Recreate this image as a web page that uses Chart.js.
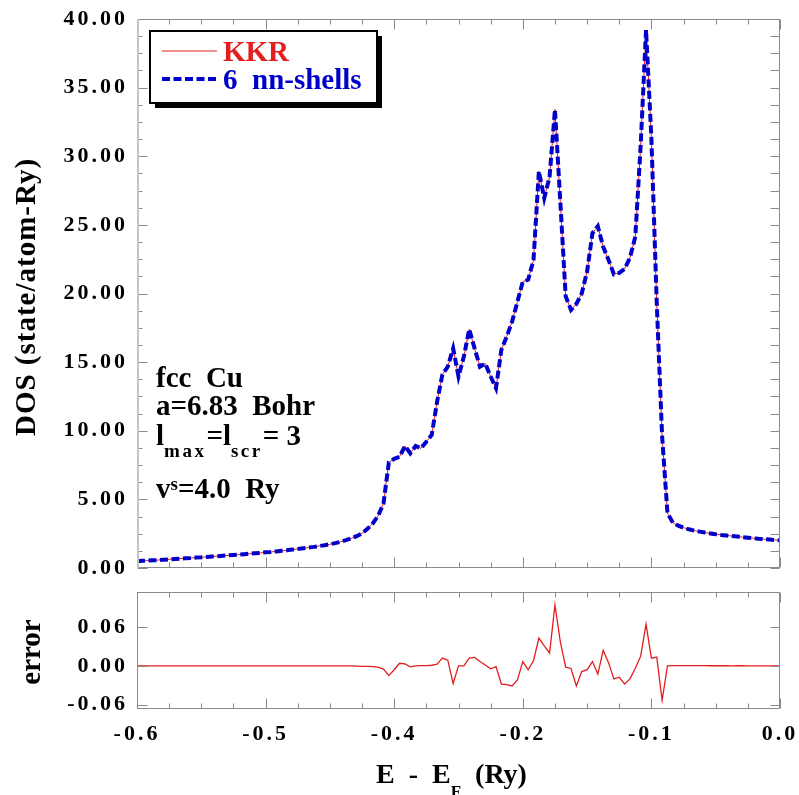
<!DOCTYPE html>
<html>
<head>
<meta charset="utf-8">
<script src="https://cdn.jsdelivr.net/npm/chart.js@4.4.0/dist/chart.umd.min.js"></script>
<style>
  html, body { margin: 0; padding: 0; background: #fff; }
  #wrap { position: relative; width: 799px; height: 795px; overflow: hidden; }
  canvas { position: absolute; left: 0; }
  #dos { top: 0; }
  #err { top: 580px; }
</style>
</head>
<body>
<div id="wrap">
  <canvas id="dos" width="799" height="580"></canvas>
  <canvas id="err" width="799" height="215"></canvas>
</div>
<script>
// energy grid (Ry, relative to E_F)
const energy = [
  -0.600,-0.595,-0.590,-0.585,-0.580,-0.575,-0.570,-0.565,-0.560,-0.555,
  -0.550,-0.545,-0.540,-0.535,-0.530,-0.525,-0.520,-0.515,-0.510,-0.505,
  -0.500,-0.495,-0.490,-0.485,-0.480,-0.475,-0.470,-0.465,-0.460,-0.455,
  -0.450,-0.445,-0.440,-0.435,-0.430,-0.425,-0.420,-0.415,-0.410,-0.405,
  -0.400,-0.395,-0.390,-0.385,-0.380,-0.375,-0.370,-0.365,-0.360,-0.355,
  -0.350,-0.345,-0.340,-0.335,-0.330,-0.325,-0.320,-0.315,-0.310,-0.305,
  -0.300,-0.295,-0.290,-0.285,-0.280,-0.275,-0.270,-0.265,-0.260,-0.255,
  -0.250,-0.245,-0.240,-0.235,-0.230,-0.225,-0.220,-0.215,-0.210,-0.205,
  -0.200,-0.195,-0.190,-0.185,-0.180,-0.175,-0.170,-0.165,-0.160,-0.155,
  -0.150,-0.145,-0.140,-0.135,-0.130,-0.125,-0.120,-0.115,-0.110,-0.105,
  -0.100,-0.095,-0.090,-0.085,-0.080,-0.075,-0.070,-0.065,-0.060,-0.055,
  -0.050,-0.045,-0.040,-0.035,-0.030,-0.025,-0.020,-0.015,-0.010,-0.005,
  0.000
];

// DOS, full KKR
const dosKKR = [
  0.50,0.52,0.54,0.56,0.58,0.61,0.63,0.66,0.68,0.71,
  0.73,0.76,0.78,0.81,0.84,0.86,0.89,0.92,0.95,0.98,
  1.01,1.04,1.07,1.10,1.14,1.17,1.21,1.25,1.29,1.34,
  1.39,1.44,1.49,1.54,1.60,1.66,1.73,1.81,1.91,2.03,
  2.16,2.32,2.52,2.85,3.25,3.80,4.70,7.70,7.95,8.10,
  8.89,8.36,8.89,8.72,9.20,9.69,12.10,14.10,14.67,16.00,
  13.95,15.40,17.40,16.00,14.67,14.90,13.95,13.10,15.90,16.86,
  17.95,19.40,20.87,21.00,22.45,28.90,26.95,28.50,33.40,26.70,
  19.80,18.80,19.24,20.00,21.60,24.40,24.90,23.40,22.45,21.40,
  21.50,21.80,22.60,24.15,30.80,39.20,31.30,19.30,9.60,4.00,
  3.30,3.08,2.94,2.82,2.72,2.65,2.58,2.52,2.46,2.41,
  2.37,2.33,2.29,2.25,2.21,2.17,2.13,2.10,2.07,2.04,
  2.02
];

// DOS, 6 nn-shells cluster (same as KKR at this scale)
const dosShells = [
  0.50,0.52,0.54,0.56,0.58,0.61,0.63,0.66,0.68,0.71,
  0.73,0.76,0.78,0.81,0.84,0.86,0.89,0.92,0.95,0.98,
  1.01,1.04,1.07,1.10,1.14,1.17,1.21,1.25,1.29,1.34,
  1.39,1.44,1.49,1.54,1.60,1.66,1.73,1.81,1.91,2.03,
  2.16,2.32,2.52,2.85,3.25,3.80,4.70,7.70,7.95,8.10,
  8.89,8.36,8.89,8.72,9.20,9.69,12.10,14.10,14.67,16.00,
  13.95,15.40,17.40,16.00,14.67,14.90,13.95,13.10,15.90,16.86,
  17.95,19.40,20.87,21.00,22.45,28.90,26.95,28.50,33.40,26.70,
  19.80,18.80,19.24,20.00,21.60,24.40,24.90,23.40,22.45,21.40,
  21.50,21.80,22.60,24.15,30.80,39.20,31.30,19.30,9.60,4.00,
  3.30,3.08,2.94,2.82,2.72,2.65,2.58,2.52,2.46,2.41,
  2.37,2.33,2.29,2.25,2.21,2.17,2.13,2.10,2.07,2.04,
  2.02
];

// difference KKR - 6 nn-shells
const dosError = [
  0,0,0,0,0,0,0,0,0,0,
  0,0,0,0,0,0,0,0,0,0,
  0,0,0,0,0,0,0,0,0,0,
  0,0,0,0,0,0,0,0,0,0,
  0,-0.0003,-0.0006,-0.0008,-0.001,-0.002,-0.005,-0.015,-0.006,0.004,
  0.003,-0.0015,0,0.0005,0.0005,0.001,0.0026,0.012,0.0088,-0.027,
  0,0,0.012,0.013,0.0067,0.0015,-0.0046,-0.001,-0.028,-0.029,
  -0.031,-0.0215,0.0067,-0.006,0.008,0.043,0.031,0.020,0.094,0.0376,
  -0.002,-0.004,-0.031,-0.0088,-0.0058,0.0067,-0.0127,0.024,0.005,-0.020,
  -0.0175,-0.028,-0.020,-0.0036,0.015,0.0645,0.012,0.0136,-0.053,0,
  0.0005,0.0005,0.0005,0.0005,0.0005,0.0004,0.0004,0.0002,0.0002,0.0003,
  0.0002,0.0001,0.0002,0.0003,0.0001,0,0,0.0001,0,0,
  0
];

// axis ticks
const xTickValues = [-0.6, -0.48, -0.36, -0.24, -0.12, 0];
const xTickLabels = ['-0.6', '-0.5', '-0.4', '-0.2', '-0.1', '0.0'];
const dosTickValues = [0, 5, 10, 15, 20, 25, 30, 35, 40];
const errTickValues = [-0.06, 0, 0.06];

const SERIF = '"Liberation Serif", "Times New Roman", serif';
const RED = 'rgb(228,30,30)';
const BLUE = 'rgb(0,0,205)';
const FRAME = '#8a8a8a';

const pts = (ys) => energy.map((e, i) => ({x: e, y: ys[i]}));

// wide tick lettering, like the original plot
const spacing = {
  id: 'spacing',
  beforeDraw(chart) { chart.ctx.letterSpacing = '3px'; }
};

// box frame with inward ticks on all four sides
const frameTicks = {
  id: 'frameTicks',
  afterDraw(chart, args, o) {
    const {ctx, chartArea: a} = chart;
    const xs = chart.scales.x, ys = chart.scales.y;
    const L = a.left + 0.5, R = a.right - 0.5, T = a.top + 0.5, B = a.bottom - 0.5;
    const seg = (x1, y1, x2, y2) => { ctx.beginPath(); ctx.moveTo(x1, y1); ctx.lineTo(x2, y2); ctx.stroke(); };
    const near = (v, list) => list.some(m => Math.abs(m - v) < 1e-9);
    const steps = (s, step) => {
      const out = [];
      if (!step) return out;
      const n = Math.round((s.max - s.min) / step);
      for (let k = 0; k <= n; k++) out.push(s.min + k * step);
      return out;
    };
    ctx.save();
    ctx.lineWidth = 1;
    ctx.strokeStyle = o.color;
    steps(xs, o.xMinor).filter(v => !near(v, o.xMajor)).forEach(v => {
      const p = Math.round(xs.getPixelForValue(v)) + 0.5;
      seg(p, B, p, B - o.minor); seg(p, T, p, T + o.minor);
    });
    o.xMajor.forEach(v => {
      const p = Math.round(xs.getPixelForValue(v)) + 0.5;
      seg(p, B, p, B - o.major); seg(p, T, p, T + o.major);
    });
    steps(ys, o.yMinor).filter(v => !near(v, o.yMajor)).forEach(v => {
      const p = Math.round(ys.getPixelForValue(v)) + 0.5;
      seg(L, p, L + o.minor, p); seg(R, p, R - o.right, p);
    });
    o.yMajor.forEach(v => {
      const p = Math.round(ys.getPixelForValue(v)) + 0.5;
      seg(L, p, L + o.major, p); seg(R, p, R - o.right, p);
    });
    seg(L, T, R, T); seg(R, T, R, B); seg(L, B, R, B);
    ctx.strokeStyle = o.leftColor || o.color;
    ctx.lineWidth = o.leftWidth || 1;
    const lx = o.leftWidth === 2 ? a.left + 1 : L;
    seg(lx, a.top, lx, a.bottom);
    ctx.restore();
  }
};

// legend in a framed box with a drop shadow
const boxLegend = {
  id: 'boxLegend',
  afterDraw(chart, args, o) {
    if (!o.show) return;
    const ctx = chart.ctx;
    ctx.save();
    ctx.letterSpacing = '0px';
    ctx.fillStyle = '#000';
    ctx.fillRect(o.left + o.shadow, o.top + o.shadow, o.width, o.height);
    ctx.fillStyle = '#fff';
    ctx.fillRect(o.left, o.top, o.width, o.height);
    ctx.lineWidth = 2;
    ctx.strokeStyle = '#000';
    ctx.strokeRect(o.left, o.top, o.width, o.height);
    chart.data.datasets.forEach((ds, i) => {
      const ly = o.top + o.firstRow + i * o.rowGap;
      ctx.strokeStyle = ds.borderColor;
      ctx.lineWidth = ds.borderWidth;
      ctx.setLineDash(ds.borderDash || []);
      ctx.beginPath();
      ctx.moveTo(o.left + 12, ly);
      ctx.lineTo(o.left + 12 + o.lineLen, ly);
      ctx.stroke();
      ctx.setLineDash([]);
      ctx.fillStyle = ds.borderColor;
      ctx.font = 'bold ' + o.size + 'px ' + SERIF;
      ctx.textBaseline = 'alphabetic';
      ctx.fillText(ds.label, o.left + o.textX, ly + 9.5);
    });
    ctx.restore();
  }
};

// rich text: titles and notes with sub/superscripts
const notes = {
  id: 'notes',
  afterDraw(chart, args, o) {
    const ctx = chart.ctx;
    (o.items || []).forEach(item => {
      ctx.save();
      ctx.translate(item.x, item.y);
      if (item.rotate) ctx.rotate(item.rotate);
      ctx.fillStyle = '#000';
      ctx.textBaseline = 'alphabetic';
      ctx.textAlign = 'left';
      let total = 0;
      const setFont = r => {
        ctx.font = 'bold ' + r.size + 'px ' + SERIF;
        ctx.letterSpacing = (r.ls || 0) + 'px';
      };
      item.runs.forEach(r => { setFont(r); r.w = ctx.measureText(r.t).width; total += r.w; });
      let cx = item.align === 'center' ? -total / 2 : 0;
      item.runs.forEach(r => { setFont(r); ctx.fillText(r.t, cx, r.dy || 0); cx += r.w; });
      ctx.restore();
    });
  }
};

const tickFont = {family: SERIF, size: 22, weight: 'bold', lineHeight: 1};

new Chart(document.getElementById('dos'), {
  type: 'line',
  data: {
    datasets: [
      {label: 'KKR', data: pts(dosKKR), borderColor: RED, borderWidth: 1, pointRadius: 0, order: 2},
      {label: '6  nn-shells', data: pts(dosShells), borderColor: BLUE, borderWidth: 4,
       borderDash: [8, 3.5], pointRadius: 0, order: 1}
    ]
  },
  options: {
    responsive: false,
    animation: false,
    layout: {padding: {top: 19, right: 19, bottom: 12, left: 0}},
    scales: {
      x: {
        type: 'linear', min: -0.6, max: 0,
        grid: {display: false, drawTicks: false},
        border: {display: false},
        ticks: {display: false, padding: 0},
        afterFit: s => { s.height = 0; }
      },
      y: {
        min: 0, max: 40,
        grid: {display: false, drawTicks: true, tickLength: 9},
        border: {display: false},
        afterBuildTicks: s => { s.ticks = dosTickValues.map(v => ({value: v})); },
        afterFit: s => { s.width = 137; },
        ticks: {font: tickFont, color: '#000', padding: 0, callback: v => v.toFixed(2)}
      }
    },
    plugins: {
      legend: {display: false},
      tooltip: {enabled: false},
      frameTicks: {color: FRAME, leftColor: '#c4c4c4', leftWidth: 2, major: 10, minor: 5, right: 9,
                   xMajor: xTickValues, xMinor: 0.03, yMajor: dosTickValues, yMinor: 1.25},
      boxLegend: {show: true, left: 150, top: 31, width: 227, height: 72, shadow: 5,
                  firstRow: 20, rowGap: 28, lineLen: 55, textX: 73, size: 29},
      notes: {items: [
        {x: 35, y: 297, rotate: -Math.PI / 2, align: 'center', runs: [{t: 'DOS (state/atom-Ry)', size: 29, ls: 1}]},
        {x: 156, y: 387, runs: [{t: 'fcc  Cu', size: 29}]},
        {x: 156, y: 415, runs: [{t: 'a=6.83  Bohr', size: 29}]},
        {x: 156, y: 445, runs: [
          {t: 'l', size: 29}, {t: 'max', size: 19, dy: 11.5, ls: 2.5},
          {t: '=', size: 29}, {t: 'l', size: 29}, {t: 'scr', size: 19, dy: 11.5, ls: 2.5},
          {t: '= 3', size: 29}]},
        {x: 156, y: 498, runs: [{t: 'v', size: 29}, {t: 's', size: 19, dy: -8}, {t: '=4.0  Ry', size: 29}]}
      ]}
    }
  },
  plugins: [spacing, frameTicks, boxLegend, notes]
});

new Chart(document.getElementById('err'), {
  type: 'line',
  data: {
    datasets: [
      {label: 'error', data: pts(dosError), borderColor: RED, borderWidth: 1.3, pointRadius: 0}
    ]
  },
  options: {
    responsive: false,
    animation: false,
    layout: {padding: {top: 12, right: 19, bottom: 36, left: 0}},
    scales: {
      x: {
        type: 'linear', min: -0.6, max: 0,
        grid: {display: false, drawTicks: true, tickLength: 14},
        border: {display: false},
        afterBuildTicks: s => { s.ticks = xTickValues.map(v => ({value: v})); },
        afterFit: s => { s.height = 50; },
        ticks: {font: tickFont, color: '#000', padding: 0, autoSkip: false, maxRotation: 0, minRotation: 0,
                callback: (v, i) => xTickLabels[i]}
      },
      y: {
        min: -0.0665, max: 0.114,
        grid: {display: false, drawTicks: true, tickLength: 9},
        border: {display: false},
        afterBuildTicks: s => { s.ticks = errTickValues.map(v => ({value: v})); },
        afterFit: s => { s.width = 137; },
        ticks: {font: tickFont, color: '#000', padding: 0, callback: v => v.toFixed(2)}
      }
    },
    plugins: {
      legend: {display: false},
      tooltip: {enabled: false},
      frameTicks: {color: FRAME, major: 10, minor: 5, right: 9,
                   xMajor: xTickValues, xMinor: 0.03, yMajor: errTickValues, yMinor: 0},
      boxLegend: {show: false},
      notes: {items: [
        {x: 40, y: 72, rotate: -Math.PI / 2, align: 'center', runs: [{t: 'error', size: 29}]},
        {x: 376, y: 203, runs: [{t: 'E  -  E', size: 28}, {t: 'F', size: 17, dy: 14}, {t: '  (Ry)', size: 28}]}
      ]}
    }
  },
  plugins: [spacing, frameTicks, boxLegend, notes]
});
</script>
</body>
</html>
